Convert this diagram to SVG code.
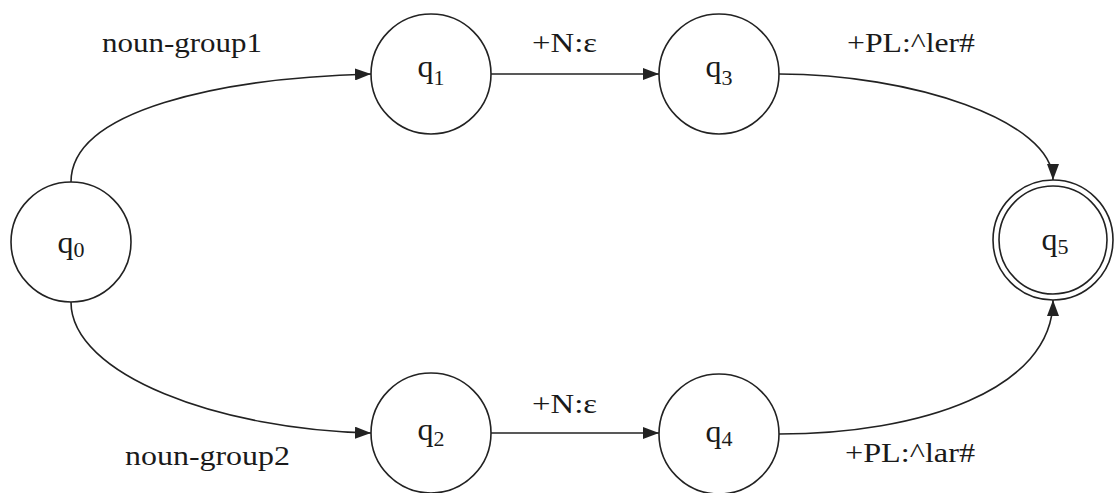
<svg xmlns="http://www.w3.org/2000/svg" width="1119" height="493" viewBox="0 0 1119 493" font-family="'Liberation Serif', 'Times New Roman', Times, serif">
<style>
.st{fill:#fff;stroke:#222;stroke-width:1.6}
.e{fill:none;stroke:#222;stroke-width:1.6}
text{font-family:'Liberation Serif','Times New Roman',Times,serif;fill:#1a1a1a}
.q{font-size:32px;text-anchor:middle}
.s{font-size:22px}
.lb{font-size:28px}
</style>
<defs>
<marker id="ah" markerUnits="userSpaceOnUse" markerWidth="16" markerHeight="12" viewBox="0 0 16 12" refX="16" refY="6" orient="auto">
<path d="M0,0 L16,6 L0,12 Z" fill="#222"/>
</marker>
</defs>
<rect width="1119" height="493" fill="#fff"/>
<g id="connectors">
<path class="e" d="M71,182 C71,110 220,78 371,74" marker-end="url(#ah)"/>
<path class="e" d="M71,302 C71,375 220,430 371,433" marker-end="url(#ah)"/>
<path class="e" d="M490,74 L659,74" marker-end="url(#ah)"/>
<path class="e" d="M490,433 L659,433" marker-end="url(#ah)"/>
<path class="e" d="M779,74 C910,74 1053,120 1053,180" marker-end="url(#ah)"/>
<path class="e" d="M779,434 C920,434 1053,390 1053,300" marker-end="url(#ah)"/>
<text class="lb" x="102" y="52" textLength="160" lengthAdjust="spacingAndGlyphs">noun-group1</text>
<text class="lb" x="125" y="465" textLength="165" lengthAdjust="spacingAndGlyphs">noun-group2</text>
<text class="lb" x="532" y="52" textLength="65" lengthAdjust="spacingAndGlyphs">+N:ε</text>
<text class="lb" x="532" y="413" textLength="65" lengthAdjust="spacingAndGlyphs">+N:ε</text>
<text class="lb" x="847" y="52" textLength="128" lengthAdjust="spacingAndGlyphs">+PL:^ler#</text>
<text class="lb" x="845" y="462" textLength="130" lengthAdjust="spacingAndGlyphs">+PL:^lar#</text>
</g>
<g id="q0"><circle class="st" cx="71" cy="242" r="60"/><text class="q" x="71" y="253">q<tspan class="s" dy="4">0</tspan></text></g>
<g id="q1"><circle class="st" cx="431" cy="74" r="60"/><text class="q" x="431" y="77">q<tspan class="s" dy="8">1</tspan></text></g>
<g id="q3"><circle class="st" cx="719" cy="74" r="60"/><text class="q" x="719" y="77">q<tspan class="s" dy="8">3</tspan></text></g>
<g id="q2"><circle class="st" cx="431" cy="433" r="60"/><text class="q" x="431" y="440">q<tspan class="s" dy="6">2</tspan></text></g>
<g id="q4"><circle class="st" cx="719" cy="434" r="60"/><text class="q" x="719" y="442">q<tspan class="s" dy="4">4</tspan></text></g>
<g id="q5"><circle class="st" cx="1053" cy="240" r="60"/><circle class="e" cx="1053" cy="240" r="54"/><text class="q" x="1055" y="250">q<tspan class="s" dy="4">5</tspan></text></g>
</svg>
